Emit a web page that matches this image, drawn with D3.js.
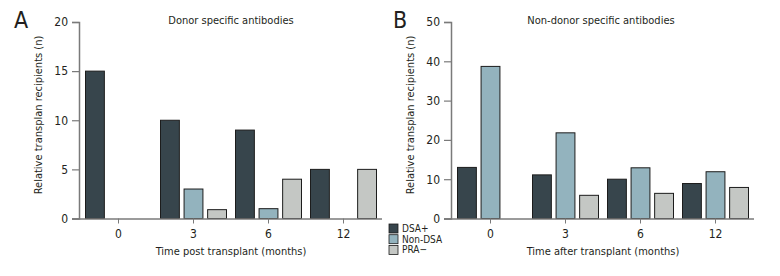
<!DOCTYPE html>
<html>
<head>
<meta charset="utf-8">
<script src="https://cdn.jsdelivr.net/npm/d3@7"></script>
<style>
  body { margin: 0; background: #fff; }
  text { font-family: "Liberation Sans Narrow", "DejaVu Sans Condensed", sans-serif; fill: #231f20; }
</style>
</head>
<body>
<div id="chart"></div>
<script>
// time points (months)
const months = ["0", "3", "6", "12"]
const seriesNames = ["DSA+", "Non-DSA", "PRA\u2212"]
const colors = ["#37454c", "#93b3be", "#c4c7c4"]

// panel A: donor specific antibodies
const dsaA = [15, 10, 9, 5]
const nonDsaA = [0, 3, 1, 0]
const praA = [0, 0.9, 4, 5]
const ticksA = [0, 5, 10, 15, 20]

// panel B: non-donor specific antibodies
const dsaB = [13, 11.1, 10, 8.9]
const nonDsaB = [38.7, 21.8, 12.9, 11.9]
const praB = [0, 5.9, 6.4, 7.9]
const ticksB = [0, 10, 20, 30, 40, 50]

const svg = d3.select('#chart').append('svg')
    .attr('width', 780)
    .attr('height', 276)

function drawPanel(opt) {
    let g = svg.append('g')
    let y = d3.scaleLinear().domain([0, opt.max]).range([218.5, 22])
    let x = d3.scaleBand().domain(months).range([opt.left + 2, opt.left + 302]).paddingInner(0).paddingOuter(0)
    let sub = d3.scaleBand().domain(seriesNames).range([-33, 33]).paddingInner(0.2)

    // y axis
    let yAx = g.append('g')
        .attr('transform', `translate(${opt.left},0)`)
        .call(d3.axisLeft(y).tickValues(opt.ticks).tickSize(7).tickPadding(4))
    yAx.select('.domain').attr('stroke', '#7a7a7a').attr('stroke-width', 1.5)
    yAx.selectAll('.tick line').attr('stroke', '#7a7a7a').attr('stroke-width', 1.2)
    yAx.selectAll('.tick text').style('font-size', '12px')

    // bars
    let rows = []
    months.forEach((m, i) => {
        opt.series.forEach((s, j) => {
            rows.push({ m: m, k: seriesNames[j], v: s[i], c: colors[j] })
        })
    })
    g.selectAll('rect.bar')
        .data(rows.filter(d => d.v > 0))
        .enter()
        .append('rect')
        .attr('class', 'bar')
        .attr('x', d => x(d.m) + x.bandwidth() / 2 + sub(d.k))
        .attr('width', sub.bandwidth())
        .attr('y', d => y(d.v))
        .attr('height', d => y(0) - y(d.v))
        .attr('fill', d => d.c)
        .attr('stroke', '#1c1c1c')
        .attr('stroke-width', 1)

    // x axis
    let xAx = g.append('g')
        .attr('transform', `translate(0,${y(0)})`)
        .call(d3.axisBottom(x).tickSize(5).tickPadding(6).tickSizeOuter(0))
    xAx.select('.domain').attr('d', `M${opt.left - 7},0.5H${opt.left + 303}`)
        .attr('stroke', '#7a7a7a').attr('stroke-width', 1.5)
    xAx.selectAll('.tick line').attr('stroke', '#7a7a7a')
    xAx.selectAll('.tick text').style('font-size', '12px')

    g.append('text')
        .attr('x', opt.left + 152)
        .attr('y', 255)
        .attr('text-anchor', 'middle')
        .style('font-size', '11px')
        .text(opt.xTitle)

    g.append('text')
        .attr('transform', `translate(${opt.left - 37},115) rotate(-90)`)
        .attr('text-anchor', 'middle')
        .style('font-size', '11px')
        .text('Relative transplan recipients (n)')

    g.append('text')
        .attr('x', opt.titleX)
        .attr('y', 24)
        .attr('text-anchor', 'middle')
        .style('font-size', '11px')
        .text(opt.title)

    g.append('text')
        .attr('x', opt.letterX)
        .attr('y', 28)
        .style('font-size', '23px')
        .text(opt.letter)
}

drawPanel({ left: 79, max: 20, ticks: ticksA, series: [dsaA, nonDsaA, praA],
    title: 'Donor specific antibodies', titleX: 231, letter: 'A', letterX: 14,
    xTitle: 'Time post transplant (months)' })
drawPanel({ left: 451, max: 50, ticks: ticksB, series: [dsaB, nonDsaB, praB],
    title: 'Non-donor specific antibodies', titleX: 601, letter: 'B', letterX: 393,
    xTitle: 'Time after transplant (months)' })

// legend
let leg = svg.append('g').attr('transform', 'translate(389,224)')
let li = leg.selectAll('g').data(seriesNames).enter().append('g')
    .attr('transform', (d, i) => `translate(0,${i * 10.7})`)
li.append('rect').attr('width', 9).attr('height', 9)
    .attr('fill', (d, i) => colors[i]).attr('stroke', '#1c1c1c').attr('stroke-width', 0.8)
li.append('text').attr('x', 13).attr('y', 8).style('font-size', '10px').text(d => d)
</script>
</body>
</html>
